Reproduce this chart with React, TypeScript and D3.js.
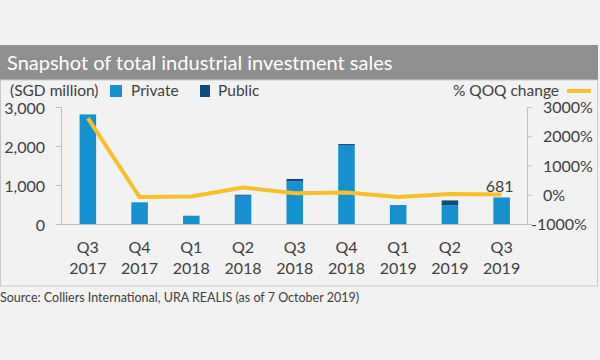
import React from 'react';
import * as d3 from 'd3';

const quarters = ['Q3', 'Q4', 'Q1', 'Q2', 'Q3', 'Q4', 'Q1', 'Q2', 'Q3'];
const years = ['2017', '2017', '2018', '2018', '2018', '2018', '2019', '2019', '2019'];
const privateSales = [2810, 556, 213, 725, 1090, 2010, 487, 480, 681];
const publicSales = [0, 0, 0, 25, 65, 40, 0, 125, 0];
const qoqChange = [2620, -80, -62, 250, 55, 80, -76, 25, 12];
const leftTicks = [0, 1000, 2000, 3000];
const rightTicks = [-1000, 0, 1000, 2000, 3000];

const FONT = 'Lato, "Open Sans", sans-serif';
const TEXT = '#404040';

export default function App() {
  const w = 600;
  const h = 360;
  const x = d3.scaleBand<number>()
    .domain(d3.range(quarters.length))
    .range([62, 527.5])
  const y = d3.scaleLinear().domain([0, 3000]).range([224, 107])
  const y2 = d3.scaleLinear().domain([-1000, 3000]).range([224, 107])
  const barW = x.bandwidth() * 0.32
  const cx = (i: number) => (x(i) as number) + x.bandwidth() / 2

  const line = d3.line<number>()
    .x((d, i) => cx(i))
    .y(d => y2(d))

  const last = quarters.length - 1

  return (
    <svg width={w} height={h} style={{ position: 'absolute', left: 0, top: 0, background: '#f2f2f2' }}
      fontFamily={FONT}>
      <rect x={0} y={0} width={w} height={h} fill="#f2f2f2" />
      {/* title bar */}
      <rect x={0} y={45} width={598} height={35} fill="#8f8f8f" />
      <text x={7} y={69.5} fill="#fff" fontSize={20}>Snapshot of total industrial investment sales</text>
      {/* chart frame */}
      <rect x={0.5} y={80} width={597} height={206} fill="#f2f2f2" stroke="#c9c9c9" />

      {/* legend */}
      <text x={10} y={96} fill={TEXT} fontSize={15.5}>(SGD million)</text>
      <rect x={110} y={85} width={12} height={12} fill="#1591cf" />
      <text x={131} y={96} fill={TEXT} fontSize={15.5}>Private</text>
      <rect x={200} y={85} width={10} height={12} fill="#0d4a7e" />
      <text x={218} y={96} fill={TEXT} fontSize={15.5}>Public</text>
      <text x={559} y={96} fill={TEXT} fontSize={15.5} textAnchor="end">% QOQ change</text>
      <line x1={567} x2={591} y1={91} y2={91} stroke="#f6c02c" strokeWidth={4} />

      {/* left axis */}
      <line x1={61.5} x2={61.5} y1={107} y2={224} stroke="#bfbfbf" />
      {leftTicks.map(t => (
        <g key={t}>
          <line x1={56} x2={62} y1={y(t) + 0.5} y2={y(t) + 0.5} stroke="#bfbfbf" />
          <text x={45} y={y(t) + 6.5} textAnchor="end" fill={TEXT} fontSize={16}>{d3.format(',')(t)}</text>
        </g>
      ))}

      {/* right axis */}
      <line x1={527.5} x2={527.5} y1={107} y2={224} stroke="#bfbfbf" />
      {rightTicks.map(t => (
        <g key={t}>
          <line x1={527} x2={532} y1={y2(t) + 0.5} y2={y2(t) + 0.5} stroke="#bfbfbf" />
          <text x={t < 0 ? 531 : 543} y={y2(t) + 6} fill={TEXT} fontSize={16}>{t + '%'}</text>
        </g>
      ))}

      {/* bars */}
      {privateSales.map((v, i) => (
        <g key={i}>
          <rect x={cx(i) - barW / 2} y={y(v)} width={barW} height={y(0) - y(v)} fill="#1591cf" />
          {publicSales[i] > 0 && (
            <rect x={cx(i) - barW / 2} y={y(v + publicSales[i])} width={barW}
              height={y(v) - y(v + publicSales[i])} fill="#0d4a7e" />
          )}
        </g>
      ))}

      {/* x axis */}
      <line x1={61.5} x2={528} y1={224.5} y2={224.5} stroke="#bfbfbf" />
      {quarters.map((q, i) => (
        <g key={i}>
          <text x={cx(i)} y={253} textAnchor="middle" fill={TEXT} fontSize={16}>{q}</text>
          <text x={cx(i)} y={274} textAnchor="middle" fill={TEXT} fontSize={16}>{years[i]}</text>
        </g>
      ))}

      {/* qoq line */}
      <path d={line(qoqChange) || ''} fill="none" stroke="#f6c02c" strokeWidth={4} strokeLinejoin="round" />
      <text x={cx(last) - 2} y={192} textAnchor="middle" fill={TEXT} fontSize={16}>
        {d3.format(',')(privateSales[last] + publicSales[last])}
      </text>

      <text x={0} y={302} fill={TEXT} fontSize={12.5}>Source: Colliers International, URA REALIS (as of 7 October 2019)</text>
    </svg>
  )
}
